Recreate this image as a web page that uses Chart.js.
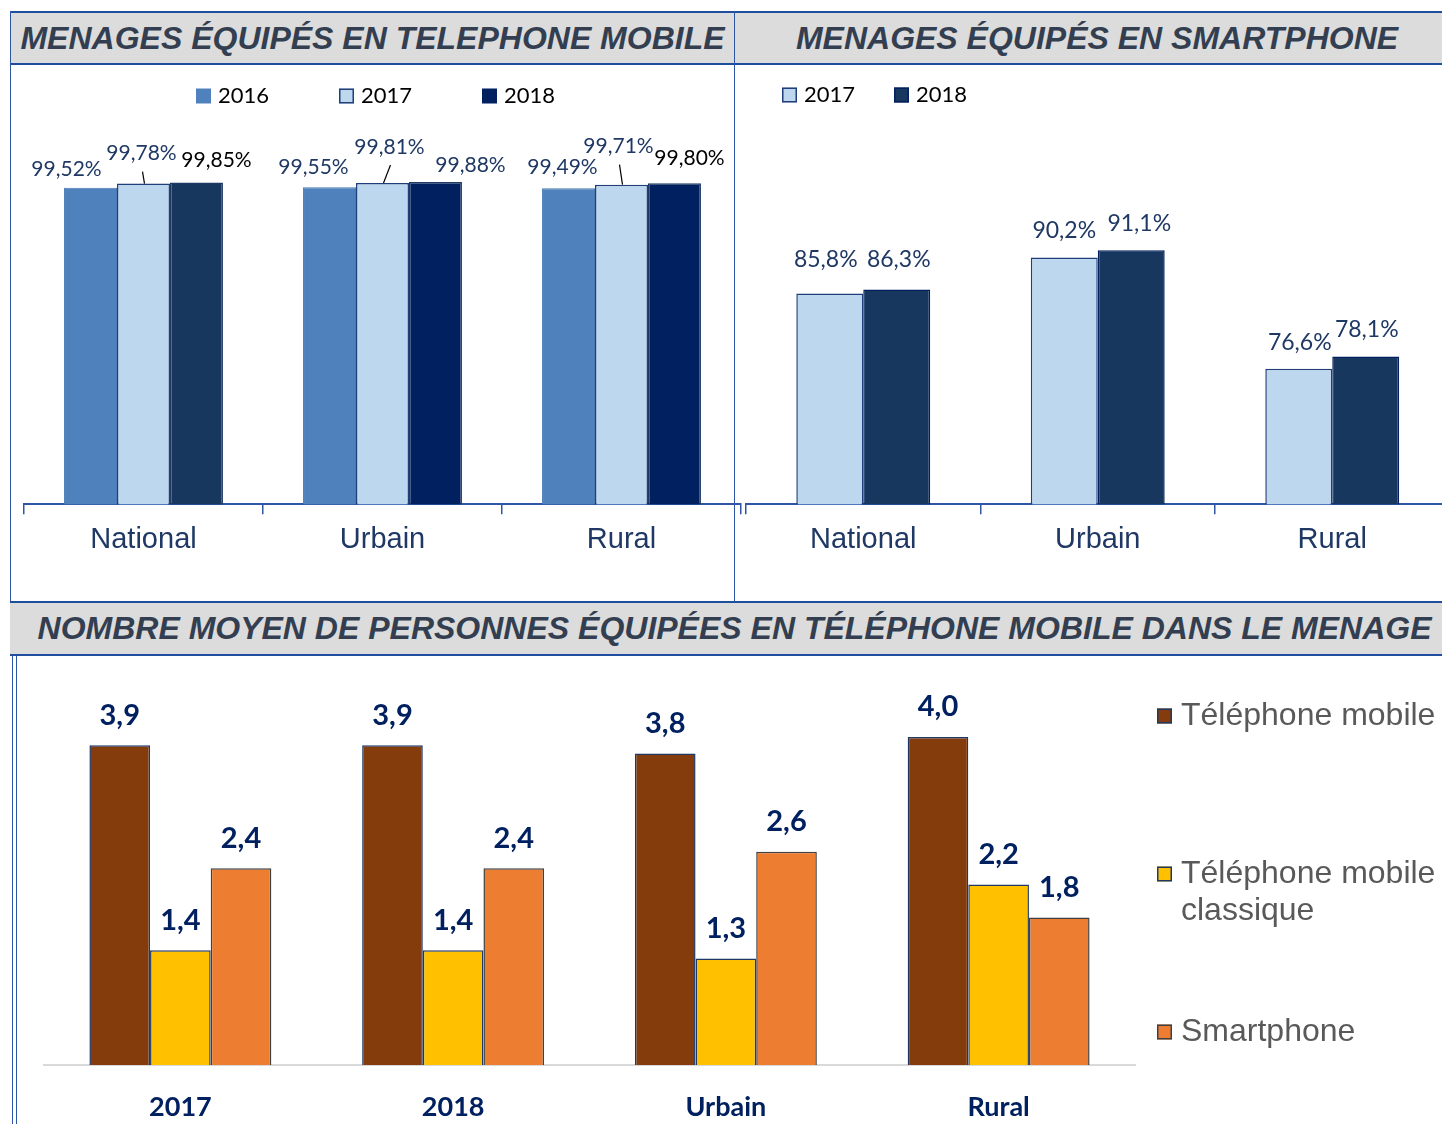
<!DOCTYPE html>
<html>
<head>
<meta charset="utf-8">
<script src="https://cdn.jsdelivr.net/npm/chart.js@4.4.1/dist/chart.umd.min.js"></script>
<style>
  html, body { margin: 0; padding: 0; background: #fff; }
  #page { position: relative; width: 1442px; height: 1124px; overflow: hidden; background: #fff; }
  .hdr {
    position: absolute; box-sizing: border-box; background: #dcdcdc;
    border-top: 2px solid #1f4e9f; border-bottom: 2px solid #1f4e9f;
    font: italic bold 32px 'Liberation Sans', Arial, sans-serif; color: #333f50;
    text-align: center; white-space: nowrap;
  }
  .vl { position: absolute; width: 0; border-left: 1.5px solid #2e54a2; }
  canvas { position: absolute; }
</style>
</head>
<body>
<div id="page">
  <canvas id="mobileChart" width="760" height="536" style="left:0px;top:64px"></canvas>
  <canvas id="smartChart" width="720" height="536" style="left:740px;top:64px"></canvas>
  <canvas id="avgChart" width="1422" height="520" style="left:20px;top:655px"></canvas>

  <div class="hdr" style="left:10px;top:11px;width:725px;height:54px;line-height:50px">MENAGES ÉQUIPÉS EN TELEPHONE MOBILE</div>
  <div class="hdr" style="left:735px;top:11px;width:724px;height:54px;line-height:50px">MENAGES ÉQUIPÉS EN SMARTPHONE</div>
  <div class="hdr" style="left:10px;top:601px;width:1449px;height:55px;line-height:51px">NOMBRE MOYEN DE PERSONNES ÉQUIPÉES EN TÉLÉPHONE MOBILE DANS LE MENAGE</div>
  <div class="vl" style="left:10px;top:11px;height:590px"></div>
  <div class="vl" style="left:734px;top:11px;height:590px"></div>
  <div class="vl" style="left:12px;top:655px;height:469px"></div>
  <div class="vl" style="left:16px;top:655px;height:469px"></div>
</div>

<script>
// Data
const mobileCats = ['National', 'Urbain', 'Rural'];
const mobile2016 = [99.52, 99.55, 99.49];
const mobile2017 = [99.78, 99.81, 99.71];
const mobile2018 = [99.85, 99.88, 99.80];

const smartCats = ['National', 'Urbain', 'Rural'];
const smart2017 = [85.8, 90.2, 76.6];
const smart2018 = [86.3, 91.1, 78.1];

const avgCats = ['2017', '2018', 'Urbain', 'Rural'];
const avgMobile = [3.9, 3.9, 3.8, 4.0];
const avgClassic = [1.4, 1.4, 1.3, 2.2];
const avgSmart = [2.4, 2.4, 2.6, 1.8];

const SANS = "'Liberation Sans', Arial, sans-serif";
const LATO = "Lato, 'Noto Sans', sans-serif";
const NAVY = '#1f3864';

function frNum(v, d) { return v.toFixed(d).replace('.', ','); }

// value labels drawn next to each bar, with optional leader lines
const valueLabels = {
    id: 'valueLabels',
    afterDatasetsDraw(chart, args, opts) {
        const ctx = chart.ctx;
        ctx.save();
        ctx.font = opts.font;
        ctx.textAlign = 'center';
        ctx.textBaseline = 'middle';
        chart.data.datasets.forEach((ds, di) => {
            const set = opts.sets[di] || {};
            chart.getDatasetMeta(di).data.forEach((bar, i) => {
                const off = set.offsets ? set.offsets[i] : [0, opts.dy];
                const x = bar.x + off[0], y = bar.y + off[1];
                ctx.fillStyle = Array.isArray(set.color) ? set.color[i] : (set.color || opts.color);
                ctx.fillText(opts.format(ds.data[i]), x, y);
                if (set.leader) {
                    ctx.strokeStyle = '#000';
                    ctx.lineWidth = 1.2;
                    ctx.beginPath();
                    ctx.moveTo(x + 1, y + 18);
                    ctx.lineTo(bar.x + 1, bar.y);
                    ctx.stroke();
                }
            });
        });
        ctx.restore();
    }
};

// simple square-marker legend at fixed spots
const boxLegend = {
    id: 'boxLegend',
    afterDraw(chart, args, opts) {
        const ctx = chart.ctx;
        ctx.save();
        ctx.font = opts.font;
        ctx.textBaseline = 'middle';
        ctx.textAlign = 'left';
        opts.items.forEach((it, i) => {
            const s = opts.box;
            ctx.fillStyle = it.fill;
            ctx.fillRect(it.x, it.y - s / 2, s, s);
            if (it.stroke) {
                ctx.strokeStyle = it.stroke;
                ctx.lineWidth = 1.5;
                ctx.strokeRect(it.x + 0.75, it.y - s / 2 + 0.75, s - 1.5, s - 1.5);
            }
            ctx.fillStyle = opts.color;
            it.lines.forEach((t, k) => ctx.fillText(t, it.x + opts.gap, it.y + k * opts.lineGap));
        });
        ctx.restore();
    }
};

Chart.defaults.font.family = SANS;

const topXAxis = {
    grid: { display: true, drawOnChartArea: false, drawTicks: true, tickLength: 10, color: '#2f55a4', lineWidth: 1.5, offset: true },
    border: { display: true, color: '#2f55a4', width: 2 },
    ticks: { color: NAVY, font: { family: SANS, size: 29 }, padding: 8 }
};

new Chart(document.getElementById('mobileChart'), {
    type: 'bar',
    data: {
        labels: mobileCats,
        datasets: [
            { label: '2016', data: mobile2016, backgroundColor: '#4f81bd', borderColor: '#4a7ab5', borderWidth: 1 },
            { label: '2017', data: mobile2017, backgroundColor: '#bdd7ee', borderColor: '#1f3e7a', borderWidth: 1.5 },
            { label: '2018', data: mobile2018, backgroundColor: ['#17375e', '#002060', '#002060'], borderColor: '#1f3864', borderWidth: 1.5 }
        ]
    },
    options: {
        responsive: false, animation: false, devicePixelRatio: 1,
        layout: { padding: { top: 116, left: 24, right: 19, bottom: 35 } },
        datasets: { bar: { categoryPercentage: 0.665, barPercentage: 1.0 } },
        scales: {
            x: topXAxis,
            y: { display: false, min: 80, max: 100 }
        },
        plugins: {
            legend: { display: false },
            tooltip: { enabled: false },
            valueLabels: {
                font: '21px ' + LATO,
                format: v => frNum(v, 2) + '%',
                sets: [
                    { color: NAVY, offsets: [[-24, -19], [-16, -20], [-6, -21]] },
                    { color: NAVY, offsets: [[-2, -30], [7, -36], [-3, -38]], leader: true },
                    { color: ['#000000', NAVY, '#000000'], offsets: [[20, -22], [35, -17], [15, -25]] }
                ]
            },
            boxLegend: {
                font: '22px ' + LATO, color: '#000', box: 15, gap: 22, lineGap: 0,
                items: [
                    { x: 196, y: 32, fill: '#4f81bd', lines: ['2016'] },
                    { x: 339, y: 32, fill: '#bdd7ee', stroke: '#1f3e7a', lines: ['2017'] },
                    { x: 482, y: 32, fill: '#002060', lines: ['2018'] }
                ]
            }
        }
    },
    plugins: [valueLabels, boxLegend]
});

new Chart(document.getElementById('smartChart'), {
    type: 'bar',
    data: {
        labels: smartCats,
        datasets: [
            { label: '2017', data: smart2017, backgroundColor: '#bdd7ee', borderColor: '#1f3e7a', borderWidth: 1.5 },
            { label: '2018', data: smart2018, backgroundColor: '#17375e', borderColor: '#002060', borderWidth: 1.5 }
        ]
    },
    options: {
        responsive: false, animation: false, devicePixelRatio: 1,
        layout: { padding: { top: 113.6, left: 6, right: 10.5, bottom: 35 } },
        datasets: { bar: { categoryPercentage: 0.571, barPercentage: 1.0 } },
        scales: {
            x: topXAxis,
            y: { display: false, min: 60, max: 100 }
        },
        plugins: {
            legend: { display: false },
            tooltip: { enabled: false },
            valueLabels: {
                font: '23px ' + LATO,
                format: v => frNum(v, 1) + '%',
                sets: [
                    { color: NAVY, offsets: [[-4, -34], [0, -27], [1, -26]] },
                    { color: NAVY, offsets: [[2, -30], [8, -27], [1, -27]] }
                ]
            },
            boxLegend: {
                font: '22px ' + LATO, color: '#000', box: 15, gap: 22, lineGap: 0,
                items: [
                    { x: 42, y: 31, fill: '#bdd7ee', stroke: '#1f3e7a', lines: ['2017'] },
                    { x: 154, y: 31, fill: '#17375e', stroke: '#002060', lines: ['2018'] }
                ]
            }
        }
    },
    plugins: [valueLabels, boxLegend]
});

new Chart(document.getElementById('avgChart'), {
    type: 'bar',
    data: {
        labels: avgCats,
        datasets: [
            { label: 'Téléphone mobile', data: avgMobile, backgroundColor: '#843c0c', borderColor: '#1f3864', borderWidth: 1.5 },
            { label: 'Téléphone mobile classique', data: avgClassic, backgroundColor: '#ffc000', borderColor: '#1f3864', borderWidth: 1.5 },
            { label: 'Smartphone', data: avgSmart, backgroundColor: '#ed7d31', borderColor: '#404040', borderWidth: 1.5 }
        ]
    },
    options: {
        responsive: false, animation: false, devicePixelRatio: 1,
        layout: { padding: { top: 41, left: 24, right: 307, bottom: 25.6 } },
        datasets: { bar: { categoryPercentage: 0.667, barPercentage: 1.0 } },
        scales: {
            x: {
                grid: { display: false, drawTicks: false },
                border: { display: true, color: '#d9d9d9', width: 2 },
                ticks: { color: '#002060', font: { family: LATO, size: 27, weight: 'bold' }, padding: 26 }
            },
            y: { display: false, min: 0, max: 4.5 }
        },
        plugins: {
            legend: { display: false },
            tooltip: { enabled: false },
            valueLabels: {
                font: 'bold 29px ' + LATO,
                color: '#002060',
                dy: -30,
                format: v => frNum(v, 1),
                sets: []
            },
            boxLegend: {
                font: '32px ' + SANS, color: '#595959', box: 15, gap: 24, lineGap: 37,
                items: [
                    { x: 1137, y: 61, fill: '#843c0c', stroke: '#1f3864', lines: ['Téléphone mobile'] },
                    { x: 1137, y: 219, fill: '#ffc000', stroke: '#1f3864', lines: ['Téléphone mobile', 'classique'] },
                    { x: 1137, y: 377, fill: '#ed7d31', stroke: '#404040', lines: ['Smartphone'] }
                ]
            }
        }
    },
    plugins: [valueLabels, boxLegend]
});
</script>
</body>
</html>
